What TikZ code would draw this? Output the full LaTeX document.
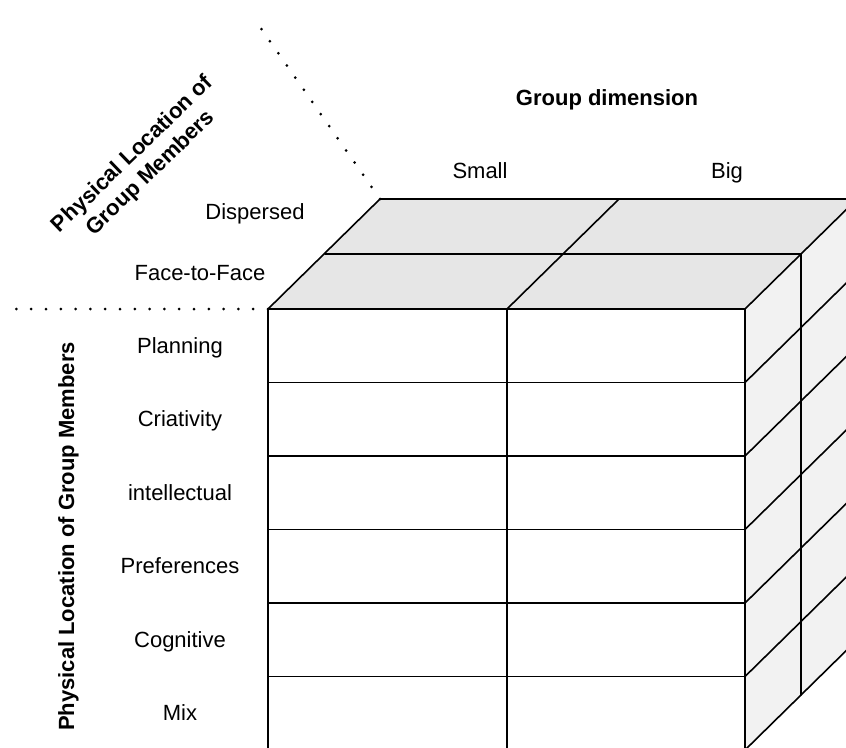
\documentclass[tikz,border=0pt]{standalone}
\usepackage{fontspec}
\setmainfont{Liberation Sans}
\definecolor{topgray}{HTML}{E6E6E6}
\definecolor{sidegray}{HTML}{F2F2F2}
\begin{document}
\begin{tikzpicture}[x=1pt,y=-1pt,
  cubeline/.style={draw=black,line width=1.6pt,line join=round,line cap=round},
  lbl/.style={font=\fontsize{22}{26}\selectfont,anchor=base,inner sep=0pt,text=black},
  blbl/.style={lbl,font=\fontsize{22}{26}\selectfont\bfseries},
  dotline/.style={draw=black,line width=3pt,line cap=round,dash pattern=on 0pt off 14.8pt}]
\useasboundingbox (0,0) rectangle (846,747);
% corners
\coordinate (FTL) at (268,309);
\coordinate (FTR) at (745,309);
\coordinate (FTM) at (507,309);
\coordinate (MTL) at (325,254);
\coordinate (MTR) at (801,254);
\coordinate (BTL) at (380,199);
\coordinate (BTM) at (619,199);
\coordinate (BTR) at (857,199);
\coordinate (FBL) at (268,750);
\coordinate (FBR) at (745,750);
\coordinate (FBM) at (507,750);
\coordinate (MBR) at (801,695);
\coordinate (BBR) at (857,640);
\coordinate (DH) at (13,309);
\coordinate (DD) at (253,17);
\begin{scope}
\clip (0,0) rectangle (846,747);
\fill[topgray] (FTL) -- (BTL) -- (BTR) -- (FTR) -- cycle;
\fill[sidegray] (FTR) -- (BTR) -- (BBR) -- (FBR) -- cycle;
\fill[white] (FTL) rectangle (FBR);
% front face
\draw[cubeline] (FTL) rectangle (FBR);
\draw[cubeline] (FTM) -- (FBM);
\foreach \y in {382.5,456,529.5,603,676.5}
  \draw[cubeline] (268,\y) -- (745,\y);
% top face
\draw[cubeline] (FTL) -- (BTL) -- (BTR);
\draw[cubeline] (MTL) -- (MTR);
\draw[cubeline] (FTM) -- (BTM);
\draw[cubeline] (FTR) -- (BTR);
% right face
\draw[cubeline] (MTR) -- (MBR);
\draw[cubeline] (BTR) -- (BBR);
\foreach \y in {382.5,456,529.5,603,676.5,750}
  \draw[cubeline] (745,\y) -- ++(112,-110);
\end{scope}
% dotted guides
\draw[dotline] (FTL) -- (DH);
\draw[dotline] (BTL) -- (DD);
% labels
\node[blbl,anchor=base] (gd) at (607,105) {Group dimension};
\node[lbl] (small) at (480,178) {Small};
\node[lbl] (big) at (727,178) {Big};
\node[lbl] (disp) at (255,219) {Dispersed};
\node[lbl] (f2f) at (200,280) {Face-to-Face};
\node[lbl] (r1) at (180,353) {Planning};
\node[lbl] (r2) at (180,426.5) {Criativity};
\node[lbl] (r3) at (180,500) {intellectual};
\node[lbl] (r4) at (180,573.5) {Preferences};
\node[lbl] (r5) at (180,647) {Cognitive};
\node[lbl] (r6) at (180,720.5) {Mix};
\node[blbl,rotate=90] (vlab) at (74,536.5) {Physical Location of Group Members};
\node[font=\fontsize{22}{26}\selectfont\bfseries,align=center,rotate=44,inner sep=0pt] (dlab) at (142,164)
  {Physical Location of\\Group Members};
\end{tikzpicture}
\end{document}
